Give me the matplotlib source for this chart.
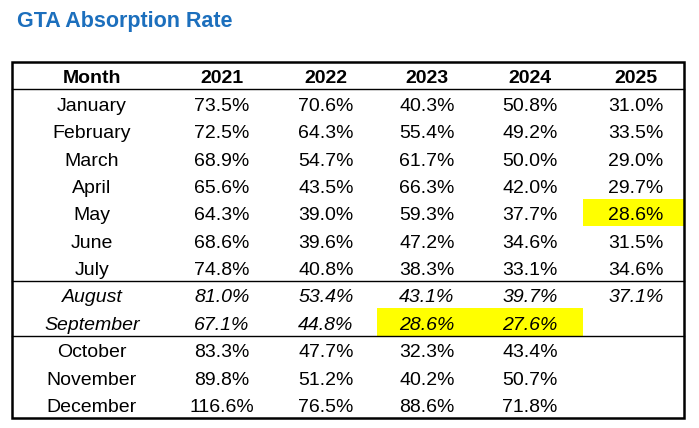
import numpy as np
import matplotlib
matplotlib.use("Agg")
import matplotlib.pyplot as plt
from matplotlib.patches import Rectangle

plt.rcParams['font.family'] = ['Liberation Sans', 'DejaVu Sans']

# Table data
title = "GTA Absorption Rate"
months = ["January", "February", "March", "April", "May", "June", "July",
          "August", "September", "October", "November", "December"]
years = ["2021", "2022", "2023", "2024", "2025"]

rate_2021 = [73.5, 72.5, 68.9, 65.6, 64.3, 68.6, 74.8, 81.0, 67.1, 83.3, 89.8, 116.6]
rate_2022 = [70.6, 64.3, 54.7, 43.5, 39.0, 39.6, 40.8, 53.4, 44.8, 47.7, 51.2, 76.5]
rate_2023 = [40.3, 55.4, 61.7, 66.3, 59.3, 47.2, 38.3, 43.1, 28.6, 32.3, 40.2, 88.6]
rate_2024 = [50.8, 49.2, 50.0, 42.0, 37.7, 34.6, 33.1, 39.7, 27.6, 43.4, 50.7, 71.8]
rate_2025 = [31.0, 33.5, 29.0, 29.7, 28.6, 31.5, 34.6, 37.1, None, None, None, None]

italic_months = ["August", "September"]
highlights = [("May", "2025"), ("September", "2023"), ("September", "2024")]

# layout (pixels)
W, H = 699, 428
col_centers = [92, 222, 326, 427, 530, 636]
col_edges = [12, 160, 270, 377, 478, 583, 684]
tab_left, tab_right, tab_top, tab_bot = 12, 684, 62, 418

fig = plt.figure(figsize=(W / 100, H / 100), dpi=100)
ax = fig.add_axes([0, 0, 1, 1])
ax.set_xlim(0, W)
ax.set_ylim(H, 0)
ax.axis('off')

nrows = len(months) + 1
row_h = (tab_bot - tab_top) / nrows

def row_y(i):
    # baseline position inside row i
    return tab_top + row_h * (i + 1) - 6

ax.text(17, 27, title, fontsize=15.5, fontweight='bold',
        color='#1c6fbd', ha='left', va='baseline')

# highlights
for m, y in highlights:
    r = months.index(m) + 1
    c = years.index(y) + 1
    ax.add_patch(Rectangle((col_edges[c], tab_top + r * row_h), col_edges[c + 1] - col_edges[c],
                           row_h, facecolor='#ffff00', edgecolor='none', zorder=1))

fs = 14
ax.text(col_centers[0], row_y(0), "Month", ha='center', va='baseline',
        fontsize=fs, fontweight='bold', zorder=3)
for j, y in enumerate(years):
    ax.text(col_centers[j + 1], row_y(0), y, ha='center', va='baseline',
            fontsize=fs, fontweight='bold', zorder=3)

series = [rate_2021, rate_2022, rate_2023, rate_2024, rate_2025]
for i, m in enumerate(months):
    style = 'italic' if m in italic_months else 'normal'
    ax.text(col_centers[0], row_y(i + 1), m, ha='center', va='baseline',
            fontsize=fs, style=style, zorder=3)
    for j, s in enumerate(series):
        if s[i] is None:
            continue
        ax.text(col_centers[j + 1], row_y(i + 1), f"{s[i]:.1f}%", ha='center', va='baseline',
                fontsize=fs, style=style, zorder=3)

# lines
ax.add_patch(Rectangle((tab_left, tab_top), tab_right - tab_left, tab_bot - tab_top,
                       facecolor='none', edgecolor='black', linewidth=1.8, zorder=4))
for r in [1, 8, 10]:
    yy = tab_top + r * row_h
    ax.plot([tab_left, tab_right], [yy, yy], color='black', linewidth=1.0, zorder=4)

fig.savefig("out.png", dpi=100)
